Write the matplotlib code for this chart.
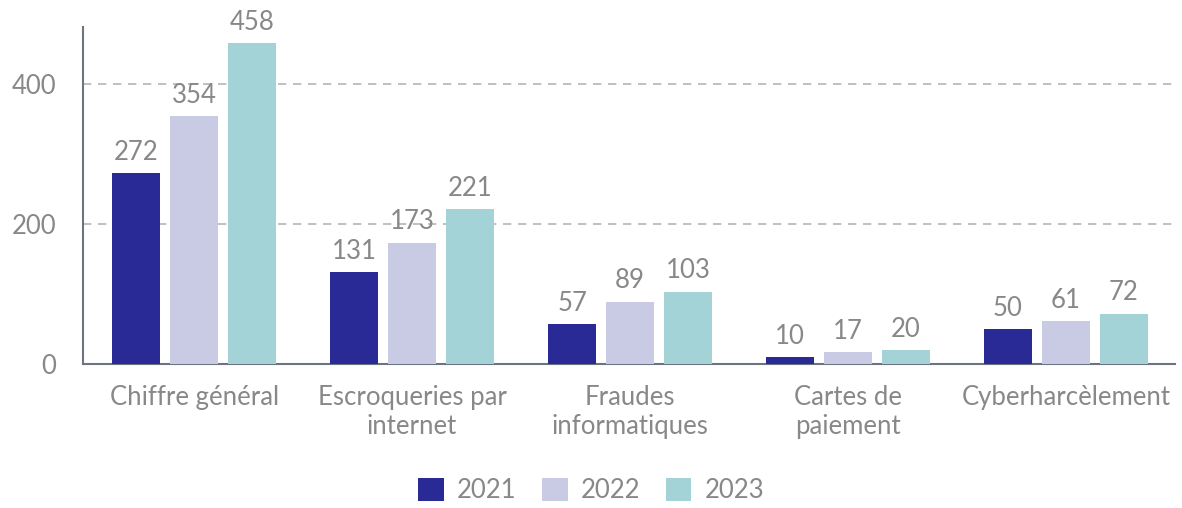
import matplotlib.pyplot as plt
import numpy as np

categories = ["Chiffre général", "Escroqueries par\ninternet", "Fraudes\ninformatiques",
              "Cartes de\npaiement", "Cyberharcèlement"]
years = ["2021", "2022", "2023"]
v2021 = [272, 131, 57, 10, 50]
v2022 = [354, 173, 89, 17, 61]
v2023 = [458, 221, 103, 20, 72]

colors = ["#2a2a96", "#c9cae3", "#a3d3d6"]
text_color = "#888888"

plt.rcParams['font.family'] = ['Lato', 'DejaVu Sans']

fig = plt.figure(figsize=(11.82, 5.08), dpi=100)
ax = fig.add_axes([0.0702, 0.2835, 0.9238, 0.6634])

x = np.arange(len(categories))
width = 0.22
pitch = 0.266

for i, (vals, yr) in enumerate(zip([v2021, v2022, v2023], years)):
    bars = ax.bar(x + (i - 1) * pitch, vals, width, color=colors[i], label=yr, zorder=3)
    for b, v in zip(bars, vals):
        ax.annotate(str(v), (b.get_x() + b.get_width() / 2, v), xytext=(0, 6),
                    textcoords="offset points", ha="center", va="bottom",
                    fontsize=18.5, color=text_color, zorder=4)

ax.set_xlim(-0.51, 4.5)
ax.set_ylim(0, 481)
ax.set_yticks([0, 200, 400])
ax.set_xticks(x)
ax.set_xticklabels(categories, fontsize=18.5, color=text_color, linespacing=1.2)
ax.tick_params(axis='y', length=0, pad=19, labelsize=18.5, labelcolor=text_color)
ax.tick_params(axis='x', length=0, pad=15)

for yv in [200, 400]:
    ax.axhline(yv, color="#b5b5b5", linestyle=(0, (5, 4)), linewidth=1.2, zorder=1)

for s in ["top", "right"]:
    ax.spines[s].set_visible(False)
ax.spines["left"].set_color("#6b7480")
ax.spines["bottom"].set_color("#6b7480")
ax.spines["left"].set_linewidth(1.5)
ax.spines["bottom"].set_linewidth(1.5)

leg = fig.legend(loc="center", bbox_to_anchor=(0.5, 0.035), ncol=3, frameon=False,
                 fontsize=18.5, handlelength=1.0, handleheight=1.0, columnspacing=1.0,
                 handletextpad=0.5)
for t in leg.get_texts():
    t.set_color(text_color)

fig.savefig("out.png", dpi=100)
